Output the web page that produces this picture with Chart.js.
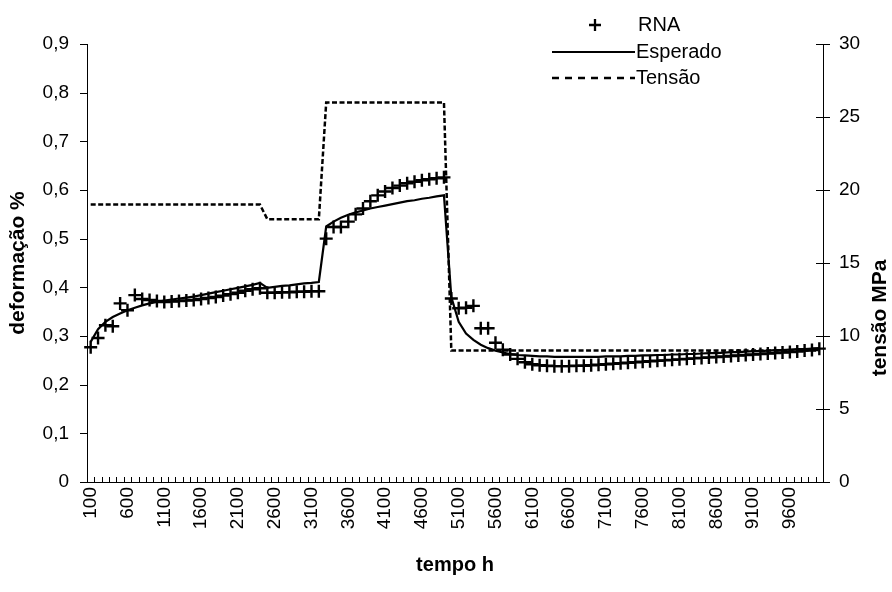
<!DOCTYPE html>
<html>
<head>
<meta charset="utf-8">
<script src="https://cdn.jsdelivr.net/npm/chart.js@4"></script>
<style>
  body { margin: 0; background: #fff; }
  canvas { display: block; }
</style>
</head>
<body>
<canvas id="grafico" width="892" height="592"></canvas>
<script>
// categorias do eixo x (tempo, h)
const tempo = [
  100, 200, 300, 400, 500, 600, 700, 800, 900, 1000,
  1100, 1200, 1300, 1400, 1500, 1600, 1700, 1800, 1900, 2000,
  2100, 2200, 2300, 2400, 2500, 2600, 2700, 2800, 2900, 3000,
  3100, 3200, 3300, 3400, 3500, 3600, 3700, 3800, 3900, 4000,
  4100, 4200, 4300, 4400, 4500, 4600, 4700, 4800, 4900, 5000,
  5100, 5200, 5300, 5400, 5500, 5600, 5700, 5800, 5900, 6000,
  6100, 6200, 6300, 6400, 6500, 6600, 6700, 6800, 6900, 7000,
  7100, 7200, 7300, 7400, 7500, 7600, 7700, 7800, 7900, 8000,
  8100, 8200, 8300, 8400, 8500, 8600, 8700, 8800, 8900, 9000,
  9100, 9200, 9300, 9400, 9500, 9600, 9700, 9800, 9900, 10000
];

// deformação % prevista pela rede neural
const rna = [
  0.277, 0.296, 0.322, 0.320, 0.367, 0.353, 0.384, 0.376, 0.374, 0.372,
  0.370, 0.371, 0.372, 0.373, 0.374, 0.376, 0.378, 0.380, 0.383, 0.386,
  0.389, 0.393, 0.396, 0.398, 0.389, 0.389, 0.390, 0.390, 0.391, 0.391,
  0.392, 0.392, 0.500, 0.524, 0.524, 0.535, 0.550, 0.562, 0.577, 0.589,
  0.597, 0.604, 0.609, 0.614, 0.617, 0.620, 0.622, 0.624, 0.626, 0.377,
  0.357, 0.358, 0.362, 0.316, 0.316, 0.286, 0.272, 0.262, 0.253, 0.246,
  0.242, 0.240, 0.239, 0.238, 0.238, 0.238, 0.239, 0.239, 0.240, 0.241,
  0.242, 0.243, 0.244, 0.245, 0.246, 0.247, 0.248, 0.249, 0.250, 0.251,
  0.252, 0.253, 0.254, 0.255, 0.256, 0.257, 0.258, 0.259, 0.260, 0.261,
  0.262, 0.263, 0.264, 0.265, 0.266, 0.267, 0.268, 0.270, 0.271, 0.274
];

// deformação % esperada
const esperado = [
  0.288, 0.314, 0.329, 0.339, 0.346, 0.353, 0.358, 0.363, 0.367, 0.370,
  0.373, 0.375, 0.377, 0.379, 0.381, 0.384, 0.387, 0.390, 0.393, 0.396,
  0.399, 0.402, 0.405, 0.409, 0.399, 0.401, 0.403, 0.404, 0.406, 0.408,
  0.409, 0.411, 0.525, 0.535, 0.543, 0.549, 0.554, 0.558, 0.562, 0.565,
  0.568, 0.571, 0.574, 0.577, 0.579, 0.582, 0.584, 0.587, 0.589, 0.380,
  0.329, 0.305, 0.292, 0.282, 0.275, 0.270, 0.266, 0.263, 0.261, 0.260,
  0.259, 0.258, 0.258, 0.257, 0.257, 0.257, 0.257, 0.257, 0.257, 0.257,
  0.258, 0.258, 0.258, 0.259, 0.259, 0.260, 0.260, 0.261, 0.261, 0.262,
  0.262, 0.263, 0.263, 0.264, 0.265, 0.265, 0.266, 0.267, 0.267, 0.268,
  0.269, 0.269, 0.270, 0.271, 0.271, 0.272, 0.273, 0.273, 0.274, 0.275
];

// tensão aplicada, MPa (eixo da direita)
const tensao = [
  19, 19, 19, 19, 19, 19, 19, 19, 19, 19,
  19, 19, 19, 19, 19, 19, 19, 19, 19, 19,
  19, 19, 19, 19, 18, 18, 18, 18, 18, 18,
  18, 18, 26, 26, 26, 26, 26, 26, 26, 26,
  26, 26, 26, 26, 26, 26, 26, 26, 26, 9,
  9, 9, 9, 9, 9, 9, 9, 9, 9, 9,
  9, 9, 9, 9, 9, 9, 9, 9, 9, 9,
  9, 9, 9, 9, 9, 9, 9, 9, 9, 9,
  9, 9, 9, 9, 9, 9, 9, 9, 9, 9,
  9, 9, 9, 9, 9, 9, 9, 9, 9, 9
];

const FONTE = "'Liberation Sans', Arial, sans-serif";
Chart.defaults.font.family = FONTE;
Chart.defaults.color = '#000';

// marcas dos eixos, legenda e título do eixo direito
const extras = {
  id: 'extras',
  afterDraw(chart) {
    const { ctx, chartArea, scales: { x, y, y1 } } = chart;
    ctx.save();
    ctx.strokeStyle = '#000';
    ctx.lineWidth = 1;
    ctx.beginPath();
    y.ticks.forEach(t => {
      const py = Math.round(y.getPixelForValue(t.value)) + 0.5;
      ctx.moveTo(chartArea.left - 7, py);
      ctx.lineTo(chartArea.left, py);
    });
    y1.ticks.forEach(t => {
      const py = Math.round(y1.getPixelForValue(t.value)) + 0.5;
      ctx.moveTo(chartArea.right - 7, py);
      ctx.lineTo(chartArea.right + 7, py);
    });
    const n = chart.data.labels.length;
    for (let k = 0; k <= n; k++) {
      const px = Math.round(x.left + k * x.width / n) + 0.5;
      ctx.moveTo(px, chartArea.bottom);
      ctx.lineTo(px, chartArea.bottom - 5);
    }
    ctx.stroke();

    // legenda
    ctx.fillStyle = '#000';
    ctx.font = '20px ' + FONTE;
    ctx.textBaseline = 'middle';
    ctx.textAlign = 'left';

    ctx.lineWidth = 2.3;
    ctx.beginPath();
    ctx.moveTo(589, 25); ctx.lineTo(601, 25);
    ctx.moveTo(595, 19); ctx.lineTo(595, 31);
    ctx.stroke();
    ctx.fillText('RNA', 638, 25);

    ctx.lineWidth = 2.2;
    ctx.beginPath();
    ctx.moveTo(552, 52); ctx.lineTo(635, 52);
    ctx.stroke();
    ctx.fillText('Esperado', 636, 52);

    ctx.lineWidth = 2.5;
    ctx.setLineDash([7, 6]);
    ctx.beginPath();
    ctx.moveTo(552, 78); ctx.lineTo(635, 78);
    ctx.stroke();
    ctx.setLineDash([]);
    ctx.fillText('Tensão', 636, 78);

    // título do eixo direito, lido de baixo para cima
    ctx.font = 'bold 21px ' + FONTE;
    ctx.textAlign = 'center';
    ctx.translate(880, 318);
    ctx.rotate(-Math.PI / 2);
    ctx.fillText('tensão MPa', 0, 0);
    ctx.restore();
  }
};

const ctx = document.getElementById('grafico').getContext('2d');

new Chart(ctx, {
  type: 'line',
  data: {
    labels: tempo,
    datasets: [
      {
        label: 'RNA',
        data: rna,
        yAxisID: 'y',
        showLine: false,
        pointStyle: 'cross',
        pointRadius: 6.5,
        pointHoverRadius: 6.5,
        pointBorderWidth: 2.4,
        borderColor: '#000',
        backgroundColor: '#000',
        clip: false
      },
      {
        label: 'Esperado',
        data: esperado,
        yAxisID: 'y',
        borderColor: '#000',
        borderWidth: 2.2,
        pointRadius: 0,
        tension: 0
      },
      {
        label: 'Tensão',
        data: tensao,
        yAxisID: 'y1',
        borderColor: '#000',
        borderWidth: 2.5,
        borderDash: [5, 2.5],
        pointRadius: 0,
        tension: 0
      }
    ]
  },
  options: {
    responsive: false,
    animation: false,
    events: [],
    layout: { padding: { top: 44, left: 0, right: 0, bottom: 0 } },
    plugins: {
      legend: { display: false },
      tooltip: { enabled: false }
    },
    scales: {
      x: {
        type: 'category',
        offset: true,
        grid: { display: false, drawTicks: false },
        border: { display: true, color: '#000', width: 1 },
        ticks: {
          autoSkip: false,
          minRotation: 90,
          maxRotation: 90,
          padding: 5,
          font: { size: 19 },
          callback: function (v, i) {
            return i % 5 === 0 ? this.getLabelForValue(v) : '';
          }
        },
        title: {
          display: true,
          text: 'tempo h',
          font: { size: 20, weight: 'bold' },
          padding: { top: 0, bottom: 15 }
        },
        afterFit(s) { s.height = 110; }
      },
      y: {
        position: 'left',
        min: 0,
        max: 0.9,
        grid: { display: false, drawTicks: false },
        border: { display: true, color: '#000', width: 1 },
        ticks: {
          stepSize: 0.1,
          padding: 18,
          font: { size: 19 },
          callback: v => v === 0 ? '0' : v.toFixed(1).replace('.', ',')
        },
        title: {
          display: true,
          text: 'deformação %',
          font: { size: 21, weight: 'bold' },
          padding: { top: 6, bottom: 0 }
        },
        afterFit(s) { s.width = 87; }
      },
      y1: {
        position: 'right',
        min: 0,
        max: 30,
        grid: { display: false, drawTicks: false },
        border: { display: true, color: '#000', width: 1 },
        ticks: {
          stepSize: 5,
          padding: 16,
          font: { size: 19 }
        },
        afterFit(s) { s.width = 69; }
      }
    }
  },
  plugins: [extras]
});
</script>
</body>
</html>
